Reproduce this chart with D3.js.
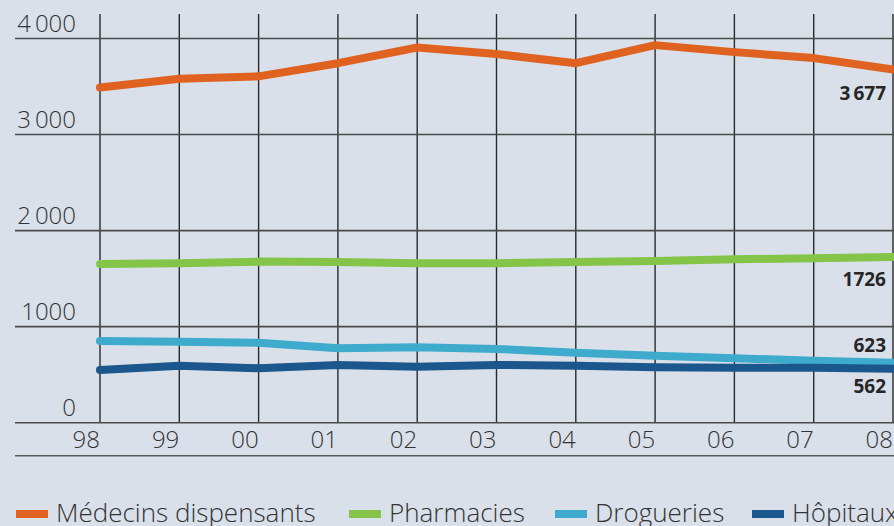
<!DOCTYPE html>
<html>
<head>
<meta charset="utf-8">
<script src="https://cdn.jsdelivr.net/npm/d3@7"></script>
<style>
  html, body { margin: 0; padding: 0; background: #d9e0ea; }
  svg { display: block; }
</style>
</head>
<body>
<svg id="chart" width="894" height="526"></svg>
<script>
(function () {
  'use strict';

  // ─── Data ─────────────────────────────────────────
  const years = ['98', '99', '00', '01', '02', '03', '04', '05', '06', '07', '08'];
  const medecins = [3490, 3580, 3606, 3743, 3906, 3838, 3743, 3931, 3858, 3796, 3677];
  const pharmacies = [1653, 1660, 1677, 1674, 1660, 1660, 1674, 1684, 1702, 1712, 1726];
  const drogueries = [851, 844, 833, 775, 785, 768, 729, 698, 671, 646, 623];
  const hopitaux = [549, 594, 567, 601, 583, 601, 594, 577, 573, 573, 562];
  const yTicks = [0, 1000, 2000, 3000, 4000];
  const yTickLabels = ['0', '1000', '2\u2009000', '3\u2009000', '4\u2009000'];
  const seriesNames = ['Médecins dispensants', 'Pharmacies', 'Drogueries', 'Hôpitaux'];
  const endLabels = ['3\u2009677', '1726', '623', '562'];

  const series = [
    { name: seriesNames[0], values: medecins, color: '#df6220', label: endLabels[0], labelY: 100 },
    { name: seriesNames[1], values: pharmacies, color: '#84c448', label: endLabels[1], labelY: 286 },
    { name: seriesNames[2], values: drogueries, color: '#3eabcd', label: endLabels[2], labelY: 352 },
    { name: seriesNames[3], values: hopitaux, color: '#1b578d', label: endLabels[3], labelY: 393 }
  ];

  const svg = d3.select('#chart');
  const font = '"Open Sans", Roboto, sans-serif';

  const x = d3.scalePoint().domain(years).range([100, 893]);
  const y = d3.scaleLinear().domain([0, 4000]).range([422.7, 38.5]);

  // ─── Gridlines ────────────────────────────────────
  const grid = svg.append('g').attr('class', 'grid');

  grid.selectAll('line.v')
    .data(years)
    .join('line')
    .attr('class', 'v')
    .attr('x1', d => x(d)).attr('x2', d => x(d))
    .attr('y1', 14).attr('y2', y(0))
    .attr('stroke', '#2a2a2a')
    .attr('stroke-width', 1.4);

  grid.selectAll('line.h')
    .data(yTicks)
    .join('line')
    .attr('class', 'h')
    .attr('x1', 15).attr('x2', 894)
    .attr('y1', d => y(d)).attr('y2', d => y(d))
    .attr('stroke', '#4a4a4a')
    .attr('stroke-width', 1.6);

  // line under the year labels
  grid.append('line')
    .attr('x1', 15).attr('x2', 894)
    .attr('y1', 455.7).attr('y2', 455.7)
    .attr('stroke', '#5a5a5a')
    .attr('stroke-width', 1.6);

  // ─── Axis labels ──────────────────────────────────
  svg.append('g').selectAll('text')
    .data(yTicks)
    .join('text')
    .attr('x', 76)
    .attr('y', d => y(d) - 7)
    .attr('text-anchor', 'end')
    .attr('fill', '#333')
    .style('font-family', font)
    .style('font-weight', 300)
    .style('font-size', '24px')
    .text((d, i) => yTickLabels[i]);

  svg.append('g').selectAll('text')
    .data(years)
    .join('text')
    .attr('x', d => x(d))
    .attr('y', 448)
    .attr('text-anchor', 'end')
    .attr('fill', '#333')
    .style('font-family', font)
    .style('font-weight', 300)
    .style('font-size', '24px')
    .text(d => d);

  // ─── Lines ────────────────────────────────────────
  const line = d3.line()
    .x((d, i) => x(years[i]))
    .y(d => y(d));

  svg.append('g').selectAll('path')
    .data(series)
    .join('path')
    .attr('d', d => line(d.values))
    .attr('fill', 'none')
    .attr('stroke', d => d.color)
    .attr('stroke-width', 8)
    .attr('stroke-linecap', 'round')
    .attr('stroke-linejoin', 'round');

  // ─── End value labels ─────────────────────────────
  svg.append('g').selectAll('text')
    .data(series)
    .join('text')
    .attr('x', 886)
    .attr('y', d => d.labelY)
    .attr('text-anchor', 'end')
    .attr('fill', '#262626')
    .style('font-family', font)
    .style('font-weight', 700)
    .style('font-size', '19px')
    .text(d => d.label);

  // ─── Legend ───────────────────────────────────────
  const legendX = [16, 349, 555, 752];
  const legend = svg.append('g').selectAll('g')
    .data(series)
    .join('g')
    .attr('transform', (d, i) => `translate(${legendX[i]}, 0)`);

  legend.append('rect')
    .attr('x', 0).attr('y', 510)
    .attr('width', 32).attr('height', 8)
    .attr('fill', d => d.color);

  legend.append('text')
    .attr('x', 40)
    .attr('y', 522)
    .attr('fill', '#333')
    .style('font-family', font)
    .style('font-weight', 300)
    .style('font-size', '26px')
    .text(d => d.name);
})();
</script>
</body>
</html>
